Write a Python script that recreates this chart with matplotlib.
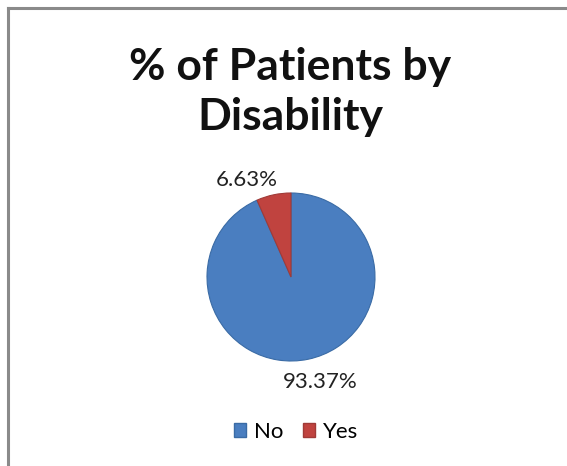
import matplotlib
matplotlib.use("Agg")
import matplotlib.pyplot as plt
from matplotlib.patches import Patch

categories = ["No", "Yes"]
values = [93.37, 6.63]
labels = ["93.37%", "6.63%"]
colors = ["#4A7EC0", "#C0433F"]
edge_colors = ["#3A6BA5", "#A03A37"]

W, H = 567, 466
fig = plt.figure(figsize=(W / 100, H / 100), dpi=100)
fig.patch.set_facecolor("white")

# border (top and left)
fig.add_artist(plt.Line2D([8 / W, 8 / W], [0, 1 - 8 / H], color="#8a8a8a", lw=2.2))
fig.add_artist(plt.Line2D([8 / W, 1], [1 - 8 / H, 1 - 8 / H], color="#8a8a8a", lw=2.2))

fig.text(290 / W, 1 - 80 / H, "% of Patients by", ha="center", va="baseline",
         fontsize=32, fontweight="bold", family="Lato", color="#111111")
fig.text(290 / W, 1 - 130 / H, "Disability", ha="center", va="baseline",
         fontsize=32, fontweight="bold", family="Lato", color="#111111")

cx, cy, r = 291, 277, 84
ax = fig.add_axes([(cx - r) / W, 1 - (cy + r) / H, 2 * r / W, 2 * r / H])
wedges, _ = ax.pie(values, colors=colors, startangle=90, counterclock=False,
                   radius=1, wedgeprops=dict(linewidth=0.8))
for w, ec in zip(wedges, edge_colors):
    w.set_edgecolor(ec)
ax.set_xlim(-1, 1)
ax.set_ylim(-1, 1)
ax.set_aspect("equal")
ax.axis("off")

ax.text(0.35, -1.25, labels[0], ha="center", va="center", fontsize=16,
        family="Lato", color="#222222", clip_on=False)
ax.text(-0.53, 1.16, labels[1], ha="center", va="center", fontsize=16,
        family="Lato", color="#222222", clip_on=False)

handles = [Patch(facecolor=c, edgecolor=e, label=l) for c, e, l in zip(colors, edge_colors, categories)]
leg = fig.legend(handles=handles, loc="center", bbox_to_anchor=(296 / W, 1 - 432 / H),
                 ncol=2, frameon=False, prop={"family": "Lato", "size": 16},
                 handlelength=0.55, handleheight=0.55, handletextpad=0.35, columnspacing=0.9)
fig.savefig("out.png", dpi=100, facecolor="white")
